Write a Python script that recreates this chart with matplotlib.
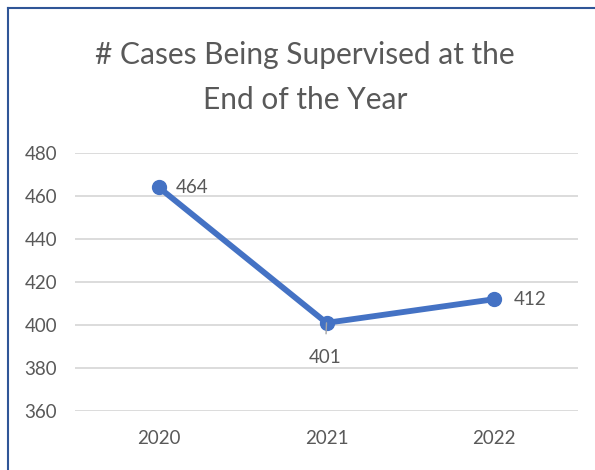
import matplotlib.pyplot as plt
from matplotlib.lines import Line2D

years = ["2020", "2021", "2022"]
cases = [464, 401, 412]
y_ticks = [360, 380, 400, 420, 440, 460, 480]

plt.rcParams['font.family'] = ['Lato', 'DejaVu Sans']
grey = "#595959"
blue = "#4472C4"

fig = plt.figure(figsize=(5.95, 4.70), dpi=100)
ax = fig.add_axes([75 / 595, 1 - 411 / 470, 503 / 595, 258 / 470])

x = list(range(len(years)))
ax.plot(x, cases, color=blue, linewidth=4.2, marker="o", markersize=10,
        solid_capstyle="round", zorder=3)

# data labels
ax.annotate(str(cases[0]), (x[0], cases[0]), xytext=(12, 0), textcoords="offset points",
            ha="left", va="center", fontsize=13.5, color=grey)
ax.annotate(str(cases[1]), (x[1], cases[1]), xytext=(-1, -25), textcoords="offset points",
            ha="center", va="center", fontsize=13.5, color=grey, zorder=4,
            arrowprops=dict(arrowstyle="-", color="#A6A6A6", lw=1.0, shrinkA=9, shrinkB=0))
ax.annotate(str(cases[2]), (x[2], cases[2]), xytext=(14, 0), textcoords="offset points",
            ha="left", va="center", fontsize=13.5, color=grey)

ax.set_xlim(-0.5, 2.5)
ax.set_ylim(360, 480)
ax.set_yticks(y_ticks)
ax.set_xticks(x)
ax.set_xticklabels(years)
ax.tick_params(axis="both", length=0, labelsize=13.5, labelcolor=grey)
ax.tick_params(axis="y", pad=13)
ax.tick_params(axis="x", pad=14)
ax.grid(axis="y", color="#D9D9D9", linewidth=1.3)
ax.set_axisbelow(True)
for s in ax.spines.values():
    s.set_visible(False)

fig.text(305 / 595, 1 - 55 / 470, "# Cases Being Supervised at the",
         ha="center", va="center", fontsize=21.5, color=grey)
fig.text(305 / 595, 1 - 100 / 470, "End of the Year",
         ha="center", va="center", fontsize=21.5, color=grey)

# frame lines (top and left)
fig.add_artist(Line2D([8 / 595, 1], [1 - 8 / 470, 1 - 8 / 470], color="#2F5597", lw=1.5))
fig.add_artist(Line2D([8 / 595, 8 / 595], [0, 1 - 8 / 470], color="#2F5597", lw=1.5))

fig.savefig("out.png", dpi=100)
